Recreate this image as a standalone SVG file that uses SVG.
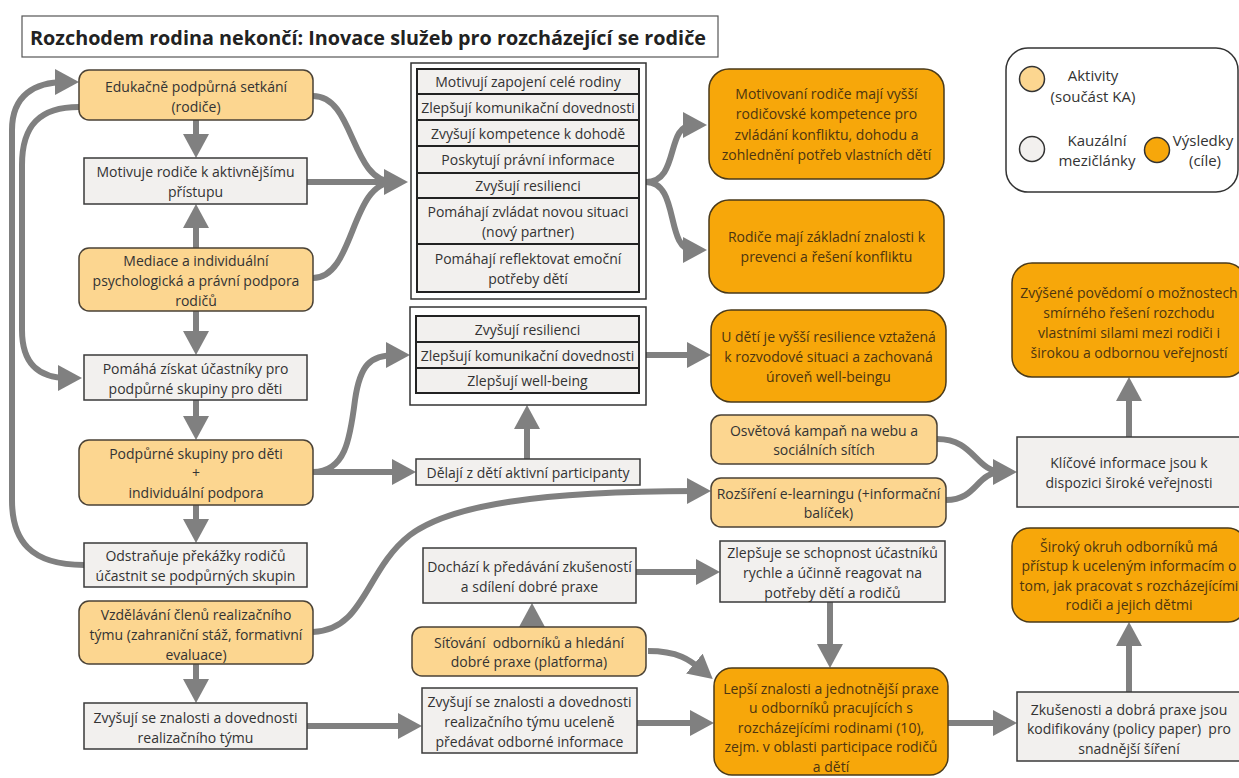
<svg xmlns="http://www.w3.org/2000/svg" width="1239" height="778" viewBox="0 0 1239 778">
<defs>
<style>
.act{fill:#FCD690;stroke:#4a4236;stroke-width:1.5}
.res{fill:#F7A70A;stroke:#4a3a1a;stroke-width:1.5}
.mid{fill:#F2F0EE;stroke:#3a3a3a;stroke-width:1.5}
.row{fill:#F2F0EE;stroke:#222;stroke-width:2}
.grp{fill:#fff;stroke:#333;stroke-width:1.5}
text{font-family:"Open Sans","Noto Sans",sans-serif;font-size:14px;fill:#333;text-anchor:middle;dominant-baseline:central}
.rt{fill:#4d3510}
.pre{white-space:pre}
.lg{font-size:15px}
.title{font-size:19.8px;font-weight:bold;text-anchor:start;fill:#222}
#connectors path{fill:none;stroke:#808080;stroke-width:6;marker-end:url(#ah)}
#connectors path.nm{marker-end:none}
</style>
<marker id="ah" viewBox="0 0 24 26" markerUnits="userSpaceOnUse" markerWidth="24" markerHeight="26" refX="10" refY="13" orient="auto">
<path d="M0,0 L24,13 L0,26 z" fill="#808080"/>
</marker>
</defs>
<rect width="1239" height="778" fill="#fff"/>

<g id="title">
<rect x="22" y="16" width="696" height="41" fill="#fff" stroke="#555" stroke-width="1.2"/>
<text class="title" x="30" y="37">Rozchodem rodina nekončí: Inovace služeb pro rozcházející se rodiče</text>
</g>

<g id="connectors">
<path d="M196,120 L196,144"/>
<path d="M196,248 L196,218"/>
<path d="M196,311 L196,341"/>
<path d="M196,400 L196,426"/>
<path d="M196,505 L196,529"/>
<path d="M196,664 L196,689"/>
<path d="M307,726 L408,726"/>
<path class="nm" d="M313,96 C355,96 350,182 394,182"/>
<path d="M307,182 L394,182"/>
<path class="nm" d="M313,278 C355,278 350,182 394,182"/>
<path d="M646,182 C680,182 665,125 693,125"/>
<path d="M646,182 C680,182 665,250 693,250"/>
<path d="M84,565 C30,565 12,540 12,500 L12,130 C12,95 35,82 65,82"/>
<path d="M79,107 C40,107 22,125 22,165 L22,330 C22,365 40,378 68,378"/>
<path d="M313,472 C345,472 350,440 355,400 C360,365 370,355 396,355"/>
<path d="M313,472 L402,472"/>
<path d="M646,355 L697,355"/>
<path d="M527,459 L527,419"/>
<path d="M313,632 C365,630 365,570 410,535 C450,505 540,491 697,491"/>
<path class="nm" d="M937,439 C975,439 975,472 1003,472"/>
<path d="M946,500 C978,500 975,472 1003,472"/>
<path d="M1129,437 L1129,391"/>
<path d="M636,572 L706,572"/>
<path d="M532,627 L532,617"/>
<path d="M830,602 L830,654"/>
<path d="M648,651 C678,651 690,660 702,670"/>
<path d="M637,723 L700,723"/>
<path d="M948,723 L1003,723"/>
<path d="M1129,692 L1129,636"/>
</g>

<g id="n-edukacne">
<rect class="act" x="79" y="70" width="234" height="50" rx="10"/>
<text x="196" y="86">Edukačně podpůrná setkání</text>
<text x="196" y="106">(rodiče)</text>
</g>
<g id="n-motivuje">
<rect class="mid" x="84" y="158" width="223" height="46"/>
<text x="195.5" y="171">Motivuje rodiče k aktivnějšímu</text>
<text x="195.5" y="191">přístupu</text>
</g>
<g id="n-mediace">
<rect class="act" x="79" y="248" width="234" height="63" rx="10"/>
<text x="196" y="260">Mediace a individuální</text>
<text x="196" y="280">psychologická a právní podpora</text>
<text x="196" y="300">rodičů</text>
</g>
<g id="n-pomaha">
<rect class="mid" x="84" y="355" width="223" height="45"/>
<text x="195.5" y="368">Pomáhá získat účastníky pro</text>
<text x="195.5" y="388">podpůrné skupiny pro děti</text>
</g>
<g id="n-podpurne">
<rect class="act" x="79" y="440" width="234" height="65" rx="10"/>
<text x="196" y="453">Podpůrné skupiny pro děti</text>
<text x="196" y="472">+</text>
<text x="196" y="492">individuální podpora</text>
</g>
<g id="n-odstranuje">
<rect class="mid" x="84" y="543" width="223" height="44"/>
<text x="195.5" y="555">Odstraňuje překážky rodičů</text>
<text x="195.5" y="575">účastnit se podpůrných skupin</text>
</g>
<g id="n-vzdelavani">
<rect class="act" x="79" y="601" width="234" height="63" rx="10"/>
<text x="196" y="614">Vzdělávání členů realizačního</text>
<text x="196" y="634">týmu (zahraniční stáž, formativní</text>
<text x="196" y="654">evaluace)</text>
</g>
<g id="n-zvysuji-tym">
<rect class="mid" x="84" y="703" width="223" height="46"/>
<text x="195.5" y="717">Zvyšují se znalosti a dovednosti</text>
<text x="195.5" y="737">realizačního týmu</text>
</g>

<g id="n-skupina-rodice">
<rect class="grp" x="411" y="63" width="235" height="236"/>
<rect class="row" x="417" y="69" width="222" height="25"/>
<text x="528" y="81.5">Motivují zapojení celé rodiny</text>
<rect class="row" x="417" y="94" width="222" height="26"/>
<text x="528" y="107">Zlepšují komunikační dovednosti</text>
<rect class="row" x="417" y="120" width="222" height="26"/>
<text x="528" y="133">Zvyšují kompetence k dohodě</text>
<rect class="row" x="417" y="146" width="222" height="27"/>
<text x="528" y="159.5">Poskytují právní informace</text>
<rect class="row" x="417" y="173" width="222" height="25"/>
<text x="528" y="185.5">Zvyšují resilienci</text>
<rect class="row" x="417" y="198" width="222" height="46"/>
<text x="528" y="211">Pomáhají zvládat novou situaci</text>
<text x="528" y="231">(nový partner)</text>
<rect class="row" x="417" y="244" width="222" height="48"/>
<text x="528" y="258">Pomáhají reflektovat emoční</text>
<text x="528" y="278">potřeby dětí</text>
</g>

<g id="n-skupina-deti">
<rect class="grp" x="410" y="307" width="236" height="98"/>
<rect class="row" x="416" y="316" width="223" height="26"/>
<text x="527.5" y="329">Zvyšují resilienci</text>
<rect class="row" x="416" y="342" width="223" height="26"/>
<text x="527.5" y="355">Zlepšují komunikační dovednosti</text>
<rect class="row" x="416" y="368" width="223" height="25"/>
<text x="527.5" y="380.5">Zlepšují well-being</text>
</g>

<g id="n-delaji">
<rect class="mid" x="416" y="459" width="224" height="26"/>
<text x="528" y="472">Dělají z dětí aktivní participanty</text>
</g>

<g id="n-dochazi">
<rect class="mid" x="423" y="548" width="213" height="55"/>
<text x="529.5" y="566">Dochází k předávání zkušeností</text>
<text x="529.5" y="586">a sdílení dobré praxe</text>
</g>
<g id="n-sitovani">
<rect class="act" x="412" y="627" width="234" height="49" rx="10"/>
<text class="pre" xml:space="preserve" x="529" y="642">Síťování  odborníků a hledání</text>
<text x="529" y="661">dobré praxe (platforma)</text>
</g>
<g id="n-zvysuji-ucelene">
<rect class="mid" x="422" y="688" width="215" height="65"/>
<text x="529.5" y="701">Zvyšují se znalosti a dovednosti</text>
<text x="529.5" y="721">realizačního týmu uceleně</text>
<text x="529.5" y="741">předávat odborné informace</text>
</g>

<g id="n-motivovani">
<rect class="res" x="709" y="69" width="235" height="110" rx="20"/>
<text class="rt" x="826.5" y="93">Motivovaní rodiče mají vyšší</text>
<text class="rt" x="826.5" y="113.5">rodičovské kompetence pro</text>
<text class="rt" x="826.5" y="134">zvládání konfliktu, dohodu a</text>
<text class="rt" x="826.5" y="154.5">zohlednění potřeb vlastních dětí</text>
</g>
<g id="n-rodice-znalosti">
<rect class="res" x="709" y="200" width="235" height="93" rx="20"/>
<text class="rt" x="826.5" y="236">Rodiče mají základní znalosti k</text>
<text class="rt" x="826.5" y="256">prevenci a řešení konfliktu</text>
</g>
<g id="n-deti-resilience">
<rect class="res" x="711" y="310" width="235" height="92" rx="20"/>
<text class="rt" x="828.5" y="336">U dětí je vyšší resilience vztažená</text>
<text class="rt" x="828.5" y="356">k rozvodové situaci a zachovaná</text>
<text class="rt" x="828.5" y="376">úroveň well-beingu</text>
</g>
<g id="n-osvetova">
<rect class="act" x="711" y="415" width="226" height="49" rx="10"/>
<text x="824" y="430">Osvětová kampaň na webu a</text>
<text x="824" y="449">sociálních sítích</text>
</g>
<g id="n-rozsireni">
<rect class="act" x="711" y="478" width="235" height="49" rx="10"/>
<text x="828.5" y="493">Rozšíření e-learningu (+informační</text>
<text x="828.5" y="512">balíček)</text>
</g>
<g id="n-zlepsuje">
<rect class="mid" x="720" y="541" width="225" height="61"/>
<text x="832.5" y="552">Zlepšuje se schopnost účastníků</text>
<text x="832.5" y="572">rychle a účinně reagovat na</text>
<text x="832.5" y="592">potřeby dětí a rodičů</text>
</g>
<g id="n-lepsi">
<rect class="res" x="714" y="668" width="234" height="107" rx="18"/>
<text class="rt" x="831" y="688">Lepší znalosti a jednotnější praxe</text>
<text class="rt" x="831" y="707.5">u odborníků pracujících s</text>
<text class="rt" x="831" y="727">rozcházejícími rodinami (10),</text>
<text class="rt" x="831" y="746.5">zejm. v oblasti participace rodičů</text>
<text class="rt" x="831" y="766">a dětí</text>
</g>

<g id="legend">
<rect x="1006" y="48" width="232" height="144" rx="22" fill="#fff" stroke="#333" stroke-width="1.5"/>
<circle cx="1032" cy="79" r="12.5" fill="#FCD690" stroke="#333" stroke-width="1.5"/>
<text class="lg" x="1093" y="75">Aktivity</text>
<text class="lg" x="1093" y="96">(součást KA)</text>
<circle cx="1032" cy="149" r="12.5" fill="#F2F0EE" stroke="#333" stroke-width="1.5"/>
<text class="lg" x="1097" y="140">Kauzální</text>
<text class="lg" x="1097" y="160">mezičlánky</text>
<circle cx="1157" cy="150" r="12.5" fill="#F7A70A" stroke="#333" stroke-width="1.5"/>
<text class="lg" x="1203" y="140">Výsledky</text>
<text class="lg" x="1205" y="160">(cíle)</text>
</g>

<g id="n-povedomi">
<rect class="res" x="1012" y="263" width="234" height="114" rx="20"/>
<text class="rt" x="1129" y="292">Zvýšené povědomí o možnostech</text>
<text class="rt" x="1129" y="312">smírného řešení rozchodu</text>
<text class="rt" x="1129" y="332">vlastními silami mezi rodiči i</text>
<text class="rt" x="1129" y="352">širokou a odbornou veřejností</text>
</g>
<g id="n-klicove">
<rect class="mid" x="1017" y="437" width="226" height="70"/>
<text x="1129" y="462">Klíčové informace jsou k</text>
<text x="1129" y="482">dispozici široké veřejnosti</text>
</g>
<g id="n-siroky">
<rect class="res" x="1012" y="528" width="234" height="94" rx="18"/>
<text class="rt" x="1129" y="546">Široký okruh odborníků má</text>
<text class="rt" x="1129" y="565.5">přístup k uceleným informacím o</text>
<text class="rt" x="1129" y="585">tom, jak pracovat s rozcházejícími</text>
<text class="rt" x="1129" y="604.5">rodiči a jejich dětmi</text>
</g>
<g id="n-zkusenosti">
<rect class="mid" x="1017" y="692" width="226" height="69"/>
<text x="1129" y="709">Zkušenosti a dobrá praxe jsou</text>
<text class="pre" xml:space="preserve" x="1129" y="728.5">kodifikovány (policy paper)  pro</text>
<text x="1129" y="748">snadnější šíření</text>
</g>
</svg>
